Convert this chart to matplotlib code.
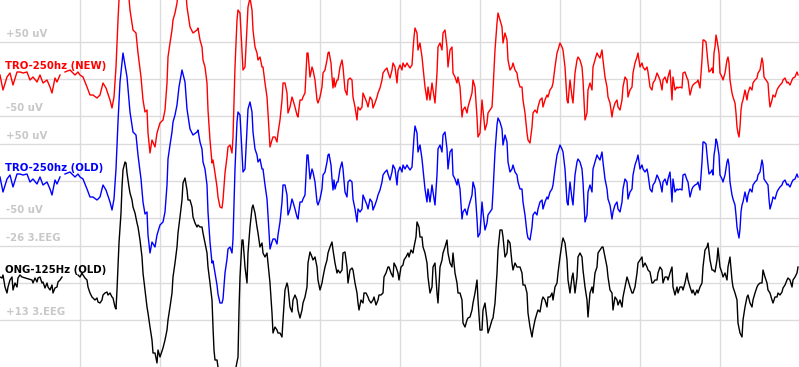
import numpy as np
import matplotlib.pyplot as plt

nan = np.nan

# time in display samples (80 samples per grid division)
t_red = [0, 3, 7, 10, 13, 17, 20, 23, 27, 30, 33, 37, 40, 43, 47, 50, 52, 55, 57, 60,
         62, 65, 70, 75, 78, 80, 83, 87, 90, 93, 97, 100, 103, 106, 110, 112, 114, 116, 118, 120,
         123, 127, 130, 133, 136, 138, 141, 143, 145, 147, 148, 150, 152, 155, 157, 160,
         163, 165, 167, 168, 170, 172, 173, 175, 177, 179, 182, 185, 187, 190, 193, 197, 198, 200, 202, 203,
         205, 207, 208, 210, 212, 213, 215, 217, 218, 220, 222, 223, 225, 227, 228, 230, 232, 233, 235, 237,
         238, 240, 242, 243, 245, 247, 248, 250, 252, 253, 255, 257, 258, 260, 262, 263, 265, 267, 268, 270,
         272, 273, 275, 277, 278, 280, 282, 283, 285, 287, 288, 290, 292, 293, 295, 297, 298, 300, 302, 303,
         305, 307, 308, 310, 312, 313, 315, 317, 318, 320,
         322, 323, 325, 327, 328, 329, 331, 332, 333, 334, 335, 337, 338, 340, 342, 343, 345, 347, 348, 350,
         352, 353, 355, 357, 358, 360, 362, 363, 365, 367, 368, 370, 372, 373, 375, 377, 378, 380, 382, 383,
         385, 387, 388, 390, 392, 393, 395, 397, 398, 400, 402, 403, 405, 407, 408, 410, 412, 413, 414, 415,
         417, 418, 420, 422, 423, 425, 427, 428, 430, 432, 433, 435, 437, 438, 440, 442, 443, 445, 447, 448,
         450, 452, 453, 455, 457, 458, 460, 462, 463, 465, 467, 468, 470, 472, 473, 475, 477, 478, 480,
         482, 483, 485, 487, 488, 490, 492, 493, 495, 497, 498, 500, 502, 503, 505, 507, 508, 510, 512, 513,
         515, 517, 518, 520, 522, 523, 525, 527, 528, 530, 532, 533, 535, 537, 538, 540, 542, 543, 545, 547,
         548, 550, 552, 553, 555, 557, 558, 560, 562, 563, 565, 566, 567, 568, 570, 572, 573, 575, 577, 578,
         580, 582, 583, 585, 587, 588, 590, 592, 593, 595, 597, 598, 600, 602, 603, 605, 607, 608, 610, 612,
         613, 615, 617, 618, 620, 622, 623, 625, 627, 628, 630, 632, 633, 635, 637, 638, 640,
         642, 643, 645, 647, 648, 650, 652, 653, 655, 657, 658, 660, 662, 663, 665, 667, 668, 670, 672, 673,
         675, 677, 678, 680, 682, 683, 685, 687, 688, 690, 692, 693, 695, 697, 698, 700, 702, 703, 704, 706,
         707, 708, 709, 711, 712, 713, 714, 715, 716, 717, 719, 720, 722, 723, 725, 727, 728, 729, 730, 732,
         733, 735, 736, 737, 738, 739, 740, 741, 742, 743, 745, 747, 748, 750, 752, 753, 755, 757, 758, 760,
         762, 763, 764, 766, 768, 769, 770, 772, 773, 775, 777, 778, 780, 782, 783, 785, 787, 788, 790, 792,
         793, 795, 797, 798]

red_amp = [4, -11, 2, 6, -6, 7, 7, 6, 7, -1, 2, -3, 4, -4, -1, -8, -14, 1, -3, 4,
           nan, 7, 9, 4, 7, 4, 2, -8, -16, -16, -19, -16, -4, -9, -21, -29, -18, 12, 59, 99,
           128, 104, 69, 49, 46, 26, 2, -21, -33, -31, -54, -74, -61, -68, -54, -44,
           -41, -31, -4, 22, 36, 49, 59, 66, 76, 94, 111, 99, 72, 52, 46, 49, 51, 39, 32, 19,
           12, -4, -31, -61, -84, -81, -94, -108, -118, -128, -129, -121, -94, -78, -68, -66, -74, -58, 12, 59,
           69, 66, 29, 9, 12, 52, 72, 81, 69, 49, 32, 26, 19, 22, 12, 12, -4, -18, -34, -68,
           -61, -58, -58, -63, -54, -41, -21, -4, -4, -14, -34, -28, -18, -21, -28, -36, -38, -21, -21, -18,
           -14, 26, 26, 2, 12, 9, -1, -21, -24, -18,
           -8, 6, 9, 19, 26, 27, 16, 2, -9, 1, -8, -1, -1, 12, 19, 12, -11, -16, -1, 1,
           -1, -18, -28, -41, -28, -31, -28, -14, -19, -24, -28, -18, -21, -29, -24, -18, -14, -9, -1, 6,
           9, 11, 7, 1, 9, 16, 12, -4, 9, 14, 9, 16, 12, 16, 14, 11, 14, 29, 42, 51,
           46, 29, 36, 22, 12, -8, -21, -8, -21, -4, -11, -24, 6, 32, 36, 29, 46, 49, 32, 12,
           29, 32, 6, 2, -4, 2, -8, -38, -31, -28, -34, -28, -21, -14, -1, -8, -38, -58, -54,
           -21, -31, -51, -44, -34, -31, -28, -11, 29, 56, 66, 59, 52, 36, 46, 39, 19, 9, 12, 16,
           9, 6, -1, -8, -8, -21, -34, -54, -61, -64, -48, -34, -31, -34, -28, -21, -19, -28, -21, -16,
           -18, -11, -8, -4, 12, 26, 29, 36, 32, 29, 12, -4, -21, -24, -1, -18, -24, 6, 19, 22,
           19, 12, -1, -41, -34, -11, -4, -11, 12, 19, 26, 24, 21, 29, 19, 2, -8, -18, -24, -38,
           -31, -24, -21, -28, -31, -21, -8, 2, -1, -18, -11, -8, 6, 16, 22, 26, 12,
           16, 12, 9, 12, 7, -8, -11, -4, -1, 6, 4, -1, -11, -1, 2, -4, 2, 9, -21, 2,
           -11, -8, -9, -8, -9, 6, 7, 1, -1, -16, -8, -6, -4, -3, -1, -9, 19, 39, 39, 37,
           26, 16, 7, 9, 11, 6, 26, 32, 44, 39, 26, 6, 2, -1, 6, 19, 22, 16, -1, -14,
           -18, -24, -34, -48, -54, -58, -48, -31, -24, -21, -11, -21, -14, -8, -11, -4, -1, 1, 6, 9,
           21, 16, 2, -1, -4, -18, -28, -21, -16, -18, -11, -9, -6, -4, -1, 1, -4, -3, -6, -1,
           1, 2, 7, 4]

blue_amp = [4, -11, 2, 6, -6, 7, 7, 6, 7, -1, 2, -3, 4, -4, -1, -8, -14, 1, -3, 4,
            nan, 7, 9, 4, 7, 4, 2, -8, -16, -16, -19, -16, -4, -9, -21, -29, -18, 12, 59, 99,
            128, 104, 69, 49, 46, 26, 2, -21, -33, -31, -54, -72, -61, -66, -54, -44,
            -41, -31, -4, 22, 36, 49, 59, 66, 76, 94, 111, 99, 72, 52, 46, 49, 51, 39, 32, 19,
            12, -4, -31, -61, -82, -80, -92, -104, -113, -122, -122, -118, -92, -78, -68, -66, -72, -58, 12, 59,
            69, 66, 29, 9, 12, 52, 72, 79, 69, 49, 32, 26, 19, 22, 12, 12, -4, -18, -34, -68,
            -61, -58, -58, -63, -54, -41, -21, -4, -4, -14, -34, -28, -18, -21, -28, -36, -38, -21, -21, -18,
            -14, 26, 26, 2, 12, 9, -1, -21, -24, -18,
            -8, 6, 9, 19, 26, 27, 16, 2, -9, 1, -8, -1, -1, 12, 19, 12, -11, -16, -1, 1,
            -1, -18, -28, -41, -28, -31, -28, -14, -19, -24, -28, -18, -21, -29, -24, -18, -14, -9, -1, 6,
            9, 11, 7, 1, 9, 16, 12, -4, 9, 14, 9, 16, 12, 16, 14, 11, 14, 29, 44, 55,
            48, 29, 36, 22, 12, -8, -21, -8, -21, -4, -11, -24, 6, 32, 36, 29, 46, 49, 32, 12,
            29, 32, 6, 2, -4, 2, -8, -38, -31, -28, -34, -28, -21, -14, -1, -8, -38, -56, -52,
            -21, -31, -49, -42, -34, -31, -28, -11, 29, 56, 63, 59, 52, 36, 46, 39, 19, 9, 12, 16,
            9, 6, -1, -8, -8, -21, -34, -52, -57, -59, -46, -34, -31, -34, -28, -21, -19, -28, -21, -16,
            -18, -11, -8, -4, 12, 26, 29, 36, 32, 29, 12, -4, -21, -24, -1, -18, -24, 6, 19, 22,
            19, 12, -1, -41, -34, -11, -4, -11, 12, 19, 26, 24, 21, 29, 19, 2, -8, -18, -24, -38,
            -31, -24, -21, -28, -31, -21, -8, 2, -1, -18, -11, -8, 6, 16, 22, 26, 12,
            16, 12, 9, 12, 7, -8, -11, -4, -1, 6, 4, -1, -11, -1, 2, -4, 2, 9, -21, 2,
            -11, -8, -9, -8, -9, 6, 7, 1, -1, -16, -8, -6, -4, -3, -1, -9, 19, 39, 39, 37,
            26, 16, 7, 9, 11, 6, 26, 32, 42, 39, 26, 6, 2, -1, 6, 19, 22, 16, -1, -14,
            -18, -24, -34, -46, -52, -57, -48, -31, -24, -21, -11, -21, -14, -8, -11, -4, -1, 1, 6, 9,
            21, 16, 2, -1, -4, -18, -28, -21, -16, -18, -11, -9, -6, -4, -1, 1, -4, -3, -6, -1,
            1, 2, 7, 4]

t_black = [0, 2, 3, 5, 7, 8, 10, 12, 13, 15, 17, 18, 20, 22, 32, 33, 35, 37, 38, 40,
           42, 43, 45, 47, 48, 50, 52, 53, 55, 57, 58, 60, 62, 70, 78, 80, 82, 83, 85, 87,
           88, 90, 92, 93, 95, 97, 98, 100, 102, 103, 105, 107, 108, 110, 112, 113, 115, 116, 117, 118,
           119, 121, 122, 123, 125, 126, 127, 129, 130, 132, 133, 135, 137, 138, 140, 142, 143, 145, 147, 148,
           150, 152, 153, 155, 157, 158, 160,
           163, 165, 167, 168, 170, 172, 173, 175, 177, 178, 180, 182, 183, 185, 187, 188, 190, 192, 193, 195,
           197, 198, 200, 202, 203, 205, 207, 208, 210, 212, 213, 214, 215, 217, 218, 220, 224, 230, 236, 238,
           239, 240, 242, 243, 245, 247, 248, 250, 252, 253, 255, 257, 258, 260, 262, 263, 265, 267, 268, 270,
           272, 273, 275, 277, 278, 280, 282, 283, 285, 287, 288, 290, 292, 293, 295, 297, 298, 300, 302, 303,
           305, 307, 308, 310, 312, 313, 315, 317, 318, 320,
           322, 323, 325, 327, 328, 330, 332, 333, 335, 337, 338, 340, 342, 343, 345, 347, 348, 350, 352, 353,
           355, 357, 358, 359, 361, 363, 364, 366, 368, 369, 371, 373, 374, 376, 378, 379, 381, 383, 384, 386,
           388, 389, 391, 393, 394, 396, 398, 399, 401, 403, 404, 406, 408, 409, 411, 413, 414, 416, 417, 419,
           420, 422, 423, 425, 427, 428, 430, 432, 433, 435, 437, 438, 440, 442, 443, 445, 447, 448, 450, 452,
           453, 455, 457, 458, 460, 462, 463, 465, 467, 468, 470, 472, 473, 475, 477, 478, 480,
           482, 483, 485, 487, 488, 490, 492, 493, 495, 497, 498, 500, 502, 503, 505, 507, 508, 510, 512, 513,
           515, 517, 518, 520, 522, 523, 525, 527, 528, 530, 532, 533, 535, 537, 538, 540, 542, 543, 545, 547,
           548, 550, 552, 553, 555, 557, 558, 560, 562, 563, 565, 567, 568, 570, 572, 573, 575, 577, 578, 580,
           582, 583, 585, 587, 588, 590, 592, 593, 595, 597, 598, 600, 602, 603, 605, 607, 608, 610, 612, 613,
           615, 617, 618, 620, 622, 623, 625, 627, 628, 630, 632, 633, 635, 637, 638, 640,
           642, 643, 645, 647, 648, 650, 652, 653, 655, 657, 658, 660, 662, 663, 665, 667, 668, 670, 672, 673,
           675, 677, 678, 680, 682, 683, 685, 687, 688, 690, 692, 693, 695, 697, 698, 700, 702, 703, 705, 707,
           708, 710, 712, 713, 715, 717, 718, 720, 722, 723, 725, 727, 728, 730, 732, 733, 735, 737, 738, 740,
           742, 743, 745, 747, 748, 750, 752, 753, 755, 757, 758, 760, 762, 763, 765, 767, 768, 770, 772, 773,
           775, 777, 778, 780, 782, 783, 785, 787, 788, 790, 792, 793, 795, 797, 798]

black_amp = [6, 5, 8, -4, -10, -4, 3, 6, -7, 0, -4, 5, 8, 6, 3, 0, 5, 1, 5, 6,
             0, 1, -5, 0, -4, -7, -2, -10, -5, -4, 1, 3, 6, nan, 8, 6, 10, 8, 5, 3,
             -4, -10, -14, -15, -17, -15, -19, -20, -17, -12, -10, -9, -12, -10, -14, -15, -24, -26, -7, 16,
             40, 70, 96, 113, 121, 120, 110, 96, 90, 83, 76, 70, 60, 56, 43, 26, 10, -7, -24, -30,
             -44, -57, -70, -70, -80, -67, -74,
             -65, -57, -47, -37, -24, -10, 6, 20, 36, 50, 66, 83, 100, 105, 93, 83, 83, 76, 66, 60,
             56, 58, 56, 56, 50, 40, 30, 16, 0, -17, -44, -67, -77, -77, -84, -87, -105, -112, -84, -74,
             -27, 6, 43, 43, 16, 0, 30, 56, 75, 78, 70, 56, 50, 36, 40, 30, 26, 30, 20, 0,
             -30, -50, -44, -47, -50, -50, -54, -37, -7, 0, -4, -24, -29, -17, -12, -17, -27, -35, -27, -20,
             -14, -4, 20, 31, 26, 23, 26, 16, 3, -7,
             0, 6, 16, 23, 30, 36, 41, 33, 20, 10, 13, 10, 13, 30, 31, 16, 0, 13, 15, 13,
             0, -10, -20, -27, -17, -20, -10, -10, -14, -17, -20, -17, -14, -22, -17, -12, -12, -10, 6, 10,
             16, 16, 10, 6, 20, 16, 10, 3, 16, 18, 23, 26, 30, 26, 33, 30, 36, 46, 61, 56,
             46, 46, 36, 30, 20, 6, -10, -4, 16, 20, -10, -20, 16, 23, 30, 36, 43, 30, 20, 16,
             30, 10, 0, -10, -10, -17, -40, -44, -37, -35, -34, -27, -20, -10, 3, -17, -47,
             -47, -27, -20, -37, -50, -44, -37, -35, -20, 10, 33, 53, 53, 46, 26, 30, 43, 40, 20, 13,
             20, 16, 16, 16, 10, -2, -2, -10, -30, -44, -54, -47, -37, -30, -27, -29, -17, -14, -17, -24,
             -14, -14, -10, -17, -4, 0, 10, 26, 40, 45, 40, 23, 3, -10, 6, 10, -10, 6, 26, 30,
             26, 13, -4, -17, -34, -10, -4, -10, 10, 16, 30, 33, 36, 36, 26, 16, 6, -7, -10, -27,
             -14, -17, -22, -17, -24, -14, -4, 6, 3, -4, -10, -10, -4, 10, 20, 23,
             26, 16, 20, 16, 13, 11, 0, 0, 3, 3, 10, 16, 13, 0, 6, 6, 3, 10, 16, -4,
             -12, -4, -10, -4, -4, -7, 0, 10, 3, -4, -10, -7, -12, -7, -10, -4, 0, 16, 33, 36,
             40, 23, 13, 13, 11, 23, 35, 16, 10, 6, 10, 3, 16, 26, 3, -4, -10, -17, -40, -50,
             -54, -37, -24, -14, -12, -20, -24, -17, -10, -4, -2, 0, 0, 13, 6, 0, -7, -10, -17, -20,
             -14, -14, -10, -12, -9, -5, -2, 3, 5, 3, -4, 3, 6, 10, 16]

chan_names = ['TRO-250hz (NEW)', 'TRO-250hz (OLD)', 'ONG-125Hz (OLD)']
scale_top = ['+50 uV', '+50 uV', '-26 3.EEG']
scale_bot = ['-50 uV', '-50 uV', '+13 3.EEG']

# layout (display units, 367 tall)
W, H = 799, 367
baselines = [79, 181, 283]
half = 37
colors = ['#ff0000', '#0000ff', '#000000']
grid_c = '#dcdcdc'
label_c = '#c8c8c8'

fig = plt.figure(figsize=(W / 100, H / 100), dpi=100)
ax = fig.add_axes([0, 0, 1, 1])
ax.set_xlim(0, W)
ax.set_ylim(-H, 0)
ax.axis('off')

for b in baselines:
    for off in (-half, 0, half):
        ax.axhline(-(b + off), color=grid_c, lw=1.0, zorder=1)
for k in range(1, 10):
    ax.axvline(80 * k, color=grid_c, lw=1.0, zorder=1)

series = [(t_red, red_amp), (t_red, blue_amp), (t_black, black_amp)]
for (t, amp), b, c in zip(series, baselines, colors):
    y = np.array(amp, dtype=float) - b
    ax.plot(t, y, color=c, lw=1.0, zorder=3)

font = dict(family='DejaVu Sans', weight='bold', size=7.3)
for i, b in enumerate(baselines):
    ax.text(6, -(b - half - 8), scale_top[i], color=label_c, va='center', ha='left', zorder=4, **font)
    ax.text(5, -(b - 13), chan_names[i], color=colors[i], va='center', ha='left', zorder=5, **font)
    ax.text(6, -(b + half - 8), scale_bot[i], color=label_c, va='center', ha='left', zorder=4, **font)

fig.savefig('out.png', dpi=100)
